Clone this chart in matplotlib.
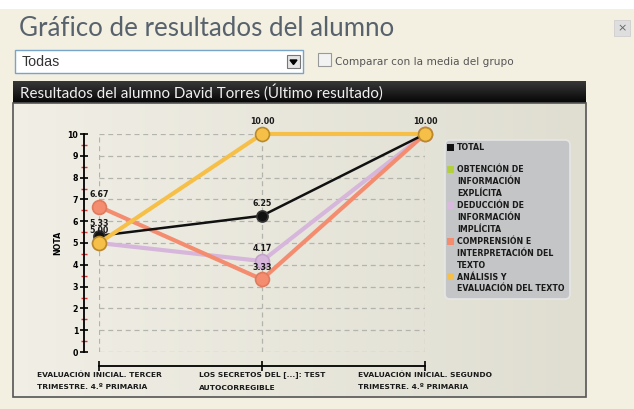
import matplotlib
matplotlib.use("Agg")
import matplotlib.pyplot as plt
import numpy as np
from matplotlib.patches import Rectangle, FancyBboxPatch

# ---------------- data ----------------
categories = ["EVALUACIÓN INICIAL. TERCER\nTRIMESTRE. 4.º PRIMARIA",
              "LOS SECRETOS DEL [...]: TEST\nAUTOCORREGIBLE",
              "EVALUACIÓN INICIAL. SEGUNDO\nTRIMESTRE. 4.º PRIMARIA"]
series_names = ["TOTAL", "OBTENCIÓN DE\nINFORMACIÓN\nEXPLÍCITA",
                "DEDUCCIÓN DE\nINFORMACIÓN\nIMPLÍCITA",
                "COMPRENSIÓN E\nINTERPRETACIÓN DEL\nTEXTO",
                "ANÁLISIS Y\nEVALUACIÓN DEL TEXTO"]
total = [5.33, 6.25, 10.00]
obtencion = []          # no values shown
deduccion = [5.00, 4.17, 10.00]
comprension = [6.67, 3.33, 10.00]
analisis = [5.00, 10.00, 10.00]
y_ticks = list(range(0, 11))

W, H = 634, 409
fig = plt.figure(figsize=(W / 100, H / 100), dpi=100)
fig.patch.set_facecolor("#f3f0e2")

# decoration layer in pixel coordinates
bg = fig.add_axes([0, 0, 1, 1], zorder=0)
bg.set_xlim(0, W)
bg.set_ylim(H, 0)
bg.axis("off")
bg.add_patch(Rectangle((0, 0), W, 9, color="white", lw=0))

bg.text(19, 29, "Gráfico de resultados del alumno", fontsize=18.6,
        family="Lato", color="#58626c", va="center", ha="left")
# dropdown
bg.add_patch(Rectangle((15, 50), 288, 23, facecolor="white", edgecolor="#7aa3c8", lw=1))
bg.text(22, 61.5, "Todas", fontsize=10.3, family="Liberation Sans", color="#333333", va="center")
bg.add_patch(Rectangle((287, 55), 13, 13, facecolor="#e4e4e4", edgecolor="#777777", lw=0.8))
bg.fill([290, 297, 293.5], [60, 60, 64.5], color="black")
# checkbox
bg.add_patch(Rectangle((318, 53), 13, 13, facecolor="#f2f2f2", edgecolor="#999999", lw=0.8))
bg.text(335, 62, "Comparar con la media del grupo", fontsize=7.6, family="DejaVu Sans",
        color="#555555", va="center")
# close button
bg.add_patch(Rectangle((614, 20), 16, 16, facecolor="#dedede", edgecolor="#cfcfcf", lw=0.6))
bg.text(622, 28, "×", fontsize=8, color="#666666", ha="center", va="center")

# panel
grad = np.linspace(0, 1, 256).reshape(1, -1)
bg.imshow(np.dstack([np.interp(grad, [0, 1], [0.945, 0.875]),
                     np.interp(grad, [0, 1], [0.937, 0.870]),
                     np.interp(grad, [0, 1], [0.900, 0.820])]),
          extent=(13, 586, 397, 103), aspect="auto", zorder=0)
bg.set_xlim(0, W)
bg.set_ylim(H, 0)
bg.add_patch(Rectangle((13, 103), 573, 294, fill=False, edgecolor="#555555", lw=1.2, zorder=2))
hgrad = np.linspace(0, 1, 64).reshape(-1, 1)
bg.imshow(np.dstack([np.interp(hgrad, [0, 1], [0.22, 0.02])] * 3),
          extent=(13, 586, 103, 81), aspect="auto", zorder=1)
bg.text(20, 92, "Resultados del alumno David Torres (Último resultado)", fontsize=10.9,
        family="Lato", color="#f0f0f0", va="center", ha="left", zorder=3)

# legend box
bg.add_patch(FancyBboxPatch((445, 140), 125, 159, boxstyle="round,pad=0,rounding_size=5",
                            facecolor="#c4c5c6", edgecolor="#e6e6e6", lw=1.2, zorder=2))

colors = ["#111111", "#b4cf3c", "#d9b9dd", "#f48d70", "#f6c048"]
leg_y = [148, 170, 206, 242, 277]
for name, c, ly in zip(series_names, colors, leg_y):
    bg.add_patch(Rectangle((447, ly - 4), 7, 7, facecolor=c, edgecolor="none", zorder=3))
    bg.text(457, ly - 4.5, name, fontsize=5.7, family="DejaVu Sans", weight="bold",
            color="#1a1a1a", va="top", ha="left", linespacing=1.4, zorder=3)

# ---------------- chart ----------------
x0, x2 = 99, 425
y10, y0 = 134, 352
ax = fig.add_axes([x0 / W, 1 - y0 / H, (x2 - x0) / W, (y0 - y10) / H], zorder=1)
ax.patch.set_alpha(0)
xs = np.arange(len(categories))
ax.set_xlim(0, 2)
ax.set_ylim(0, 10)

for y in y_ticks:
    ax.axhline(y, color="#b4b4ae", lw=0.9, ls=(0, (4, 3)), zorder=1)
for x in xs:
    ax.axvline(x, color="#b4b4ae", lw=0.9, ls=(0, (4, 3)), zorder=1)

def draw(vals, color, edge, lw, ms, z):
    if not vals:
        return
    ax.plot(xs, vals, color=color, lw=lw, zorder=z, clip_on=False,
            solid_capstyle="round")
    ax.plot(xs, vals, "o", ms=ms, mfc=color, mec=edge, mew=1.2, zorder=z + 0.5, clip_on=False)

draw(total, "#111111", "#333333", 1.8, 8, 5)
draw(obtencion, "#b4cf3c", "#8aa02a", 3, 10, 4)
draw(deduccion, "#d7b6dc", "#c5a2cb", 3, 10, 3)
draw(comprension, "#f48d70", "#e07a5e", 3, 10, 3.5)
draw(analisis, "#f6c048", "#b98a2a", 3, 10, 6)

seen = set()
for vals in [total, deduccion, comprension, analisis]:
    for x, v in zip(xs, vals):
        if (x, v) in seen:
            continue
        seen.add((x, v))
        ax.annotate(f"{v:.2f}", (x, v), xytext=(0, 5.5), textcoords="offset points",
                    ha="center", va="bottom", fontsize=5.7, family="DejaVu Sans",
                    weight="bold", color="#1a1a1a", zorder=8, annotation_clip=False)

ax.spines["top"].set_visible(False)
ax.spines["right"].set_visible(False)
ax.spines["left"].set_position(("outward", 11))
ax.spines["bottom"].set_position(("outward", 10))
ax.spines["left"].set_linewidth(1.3)
ax.spines["bottom"].set_linewidth(1.3)
ax.set_yticks(y_ticks)
ax.set_yticklabels([str(t) for t in y_ticks], fontsize=5.7, family="DejaVu Sans", weight="bold")
ax.set_yticks(np.arange(0.5, 10, 1), minor=True)
ax.tick_params(axis="y", which="major", direction="inout", length=6, width=1.2, pad=1)
ax.tick_params(axis="y", which="minor", direction="inout", length=5, width=1.0, color="#e03030")
ax.set_xticks(xs)
ax.set_xticklabels([])
ax.tick_params(axis="x", direction="inout", length=7, width=1.2)
ax.set_ylabel("NOTA", fontsize=5.7, family="DejaVu Sans", weight="bold", labelpad=4)

for x, lab in zip(xs, categories):
    ax.annotate(lab, (x, 0), xytext=(0, -14), textcoords="offset points",
                ha="center", va="top", fontsize=5.4, family="DejaVu Sans", weight="bold",
                color="#1a1a1a", linespacing=2.3, multialignment="left",
                annotation_clip=False)

fig.savefig("out.png", dpi=100, facecolor=fig.get_facecolor())
